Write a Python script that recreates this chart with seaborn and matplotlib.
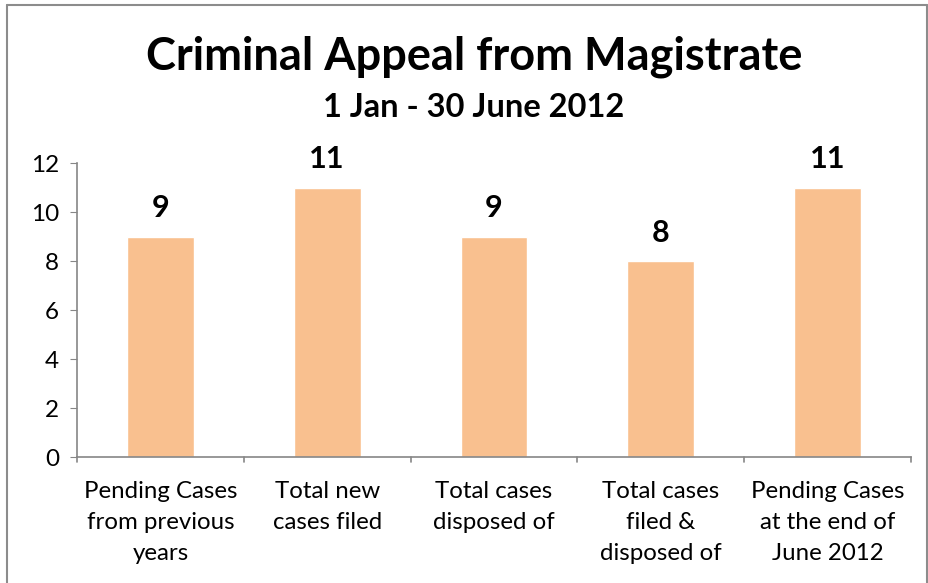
import matplotlib
matplotlib.use("Agg")
import matplotlib.pyplot as plt
import seaborn as sns
import pandas as pd
from matplotlib.lines import Line2D

categories = ["Pending Cases\nfrom previous\nyears", "Total new\ncases filed",
              "Total cases\ndisposed of", "Total cases\nfiled &\ndisposed of",
              "Pending Cases\nat the end of\nJune 2012"]
values = [9, 11, 9, 8, 11]
yticks = [0, 2, 4, 6, 8, 10, 12]

sns.set_style("white")
plt.rcParams['font.family'] = ['Lato', 'DejaVu Sans']
plt.rcParams['text.color'] = 'black'
plt.rcParams['xtick.color'] = 'black'
plt.rcParams['ytick.color'] = 'black'

df = pd.DataFrame({'cat': categories, 'val': values})

fig = plt.figure(figsize=(9.29, 5.83), dpi=100)
ax = fig.add_axes([0.0829, 0.2161, 0.8977, 0.5043])
sns.barplot(data=df, x='cat', y='val', color='#F9C08F', saturation=1, width=0.4, ax=ax)

ax.set_ylim(0, 12)
ax.set_xlim(-0.5, 4.5)
ax.set_yticks(yticks)
ax.set_xlabel('')
ax.set_ylabel('')
ax.tick_params(axis='y', labelsize=17.5, length=5, color='#868686', labelcolor='black',
               pad=8, direction='out', left=True)
ax.tick_params(axis='x', labelsize=17.3, length=0, pad=17, labelcolor='black')
for lab in ax.get_xticklabels():
    lab.set_linespacing(1.6)
for s in ['top', 'right']:
    ax.spines[s].set_visible(False)
for s in ['left', 'bottom']:
    ax.spines[s].set_color('#868686')
    ax.spines[s].set_linewidth(1.2)

# category boundary ticks on x axis
for b in [-0.5, 0.5, 1.5, 2.5, 3.5, 4.5]:
    ax.plot([b, b], [0, -0.22], color='#868686', lw=1.2, clip_on=False)

for i, v in enumerate(values):
    ax.text(i, v + 0.78, str(v), ha='center', va='baseline', fontsize=22, fontweight='bold')

fig.text(0.51, 0.902, 'Criminal Appeal from Magistrate', ha='center', va='center',
         fontsize=32.5, fontweight='bold')
fig.text(0.51, 0.816, '1 Jan - 30 June 2012', ha='center', va='center',
         fontsize=23.5, fontweight='bold')

# outer chart border (left, top, right)
bc = '#8c8c8c'
fig.add_artist(Line2D([0.0075, 0.0075], [0, 0.991], color=bc, lw=1.5, transform=fig.transFigure))
fig.add_artist(Line2D([0.0075, 0.998], [0.991, 0.991], color=bc, lw=1.5, transform=fig.transFigure))
fig.add_artist(Line2D([0.998, 0.998], [0, 0.991], color=bc, lw=1.5, transform=fig.transFigure))

fig.savefig('out.png', dpi=100)
